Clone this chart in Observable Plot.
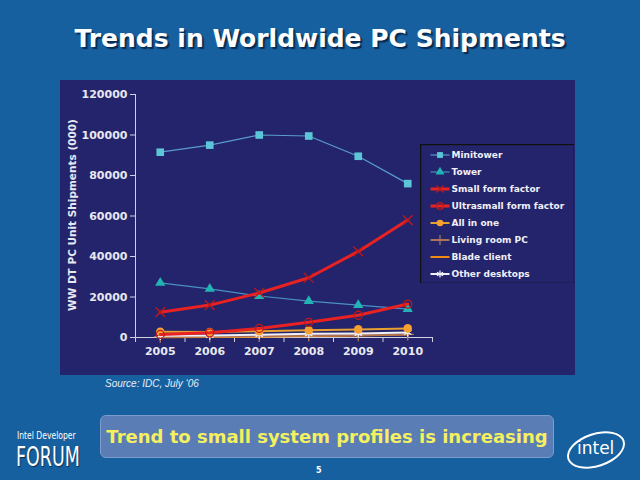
<!DOCTYPE html>
<html>
<head>
<meta charset="utf-8">
<script src="https://cdn.jsdelivr.net/npm/d3@7"></script>
<script src="https://cdn.jsdelivr.net/npm/@observablehq/plot@0.6"></script>
<style>
  html, body { margin:0; padding:0; }
  body { width:640px; height:480px; background:#1660a0; position:relative; overflow:hidden; font-family:"DejaVu Sans", Verdana, sans-serif; }
  #title { position:absolute; left:0; top:24px; width:640px; text-align:center; color:#fff; font-weight:bold; font-size:25px; text-shadow:2px 2px 1px #0a2a50; }
  #chart { position:absolute; left:60px; top:80px; width:515px; height:295px; background:#23246b; }
  #chart svg { position:absolute; left:0; top:0; }
  #ylabel { position:absolute; left:72px; top:215px; transform:translate(-50%,-50%) rotate(-90deg); color:#e8e8f0; font-weight:bold; font-size:10.5px; white-space:nowrap; }
  #legend { position:absolute; left:420px; top:144px; }
  #source { position:absolute; left:105px; top:378px; color:#e8eef8; font-style:italic; font-size:10px; font-family:"Liberation Sans", Arial, sans-serif; }
  #box { position:absolute; left:100px; top:415px; width:454px; height:43px; background:#5a7db5; border:1px solid #7d9bcc; border-radius:6px; box-sizing:border-box; color:#f4f060; font-weight:bold; font-size:18px; text-align:center; line-height:41px; }
  #idf1 { position:absolute; left:17px; top:431px; line-height:1; color:#fff; font-size:10px; font-family:"Liberation Sans Narrow", "DejaVu Sans Condensed", sans-serif; transform-origin:0 0; transform:scaleX(0.85); }
  #idf2 { position:absolute; left:16px; top:443px; line-height:1; color:#fff; font-size:27px; font-family:"Liberation Sans Narrow", "DejaVu Sans Condensed", sans-serif; transform-origin:0 0; transform:scaleX(0.72); text-shadow:1px 1px 1px #0a2a50; }
  #page { position:absolute; left:316px; top:466px; color:#fff; font-size:8px; font-weight:bold; }
  #intel { position:absolute; left:566px; top:433px; width:60px; height:34px; border:2px solid #fff; border-radius:50%; transform:rotate(-18deg); box-sizing:border-box; }
  #inteltxt { position:absolute; left:577px; top:438px; color:#fff; font-size:17px; font-family:"DejaVu Sans", sans-serif; }
</style>
</head>
<body>
<div id="title">Trends in Worldwide PC Shipments</div>
<div id="chart"></div>
<div id="ylabel">WW DT PC Unit Shipments (000)</div>
<div id="legend"></div>
<div id="source">Source: IDC, July ‘06</div>
<div id="box">Trend to small system profiles is increasing</div>
<div id="idf1">Intel Developer</div>
<div id="idf2">FORUM</div>
<div id="page">5</div>
<div id="intel"></div>
<div id="inteltxt">intel</div>
<script>
// ---- data ----
const years = [2005, 2006, 2007, 2008, 2009, 2010];
const seriesNames = ["Minitower", "Tower", "Small form factor", "Ultrasmall form factor", "All in one", "Living room PC", "Blade client", "Other desktops"];
const minitower = [91500, 95000, 100000, 99500, 89500, 76000];
const tower = [27000, 24000, 20500, 18000, 16000, 14000];
const smallFormFactor = [12500, 16000, 22000, 29500, 42500, 58000];
const ultrasmallFormFactor = [1500, 2300, 4500, 7500, 11000, 16500];
const allInOne = [2800, 2700, 3100, 3600, 4000, 4500];
const livingRoomPC = [400, 500, 800, 1000, 1200, 1500];
const bladeClient = [100, 200, 400, 700, 1000, 1500];
const otherDesktops = [900, 1000, 1400, 1800, 2000, 2500];
const yTicks = [0, 20000, 40000, 60000, 80000, 100000, 120000];

const seriesValues = [minitower, tower, smallFormFactor, ultrasmallFormFactor, allInOne, livingRoomPC, bladeClient, otherDesktops];
const styles = {
  "Minitower": {line:"#5a9ccc", width:1.2, symbol:"square", fill:"#5cc6d8", stroke:"none", r:4.3},
  "Tower": {line:"#4a90c0", width:1.2, symbol:"triangle", fill:"#22b4b4", stroke:"none", r:3.8},
  "Small form factor": {line:"#e82222", width:3, symbol:"times", fill:"none", stroke:"#c01818", r:4.5},
  "Ultrasmall form factor": {line:"#e82222", width:3, symbol:"circle", fill:"none", stroke:"#c01818", r:4},
  "All in one": {line:"#e8a030", width:2, symbol:"circle", fill:"#f5a030", stroke:"none", r:4.3},
  "Living room PC": {line:"#a87058", width:2, symbol:"plus", fill:"none", stroke:"#b07858", r:4},
  "Blade client": {line:"#f08a10", width:2, symbol:"circle", fill:"none", stroke:"none", r:0},
  "Other desktops": {line:"#f0f0f8", width:2, symbol:"asterisk", fill:"none", stroke:"#f0f0f8", r:4}
};
const rows = [];
seriesNames.forEach((name, i) => years.forEach((yr, j) => rows.push({series:name, year:yr, value:seriesValues[i][j]})));

const drawOrder = ["Blade client", "Living room PC", "Other desktops", "All in one", "Tower", "Minitower", "Ultrasmall form factor", "Small form factor"];
const seriesMarks = drawOrder.flatMap(name => {
  const s = styles[name];
  const d = rows.filter(r => r.series === name);
  const m = [Plot.line(d, {x:"year", y:"value", stroke:s.line, strokeWidth:s.width})];
  if (s.r > 0) m.push(Plot.dot(d, {x:"year", y:"value", symbol:() => s.symbol, fill:s.fill, stroke:s.stroke, strokeWidth:1.3, r:s.r}));
  return m;
});

const boundaries = years.map(y => y - 0.5).concat([years[years.length-1] + 0.5]);

const chart = Plot.plot({
  width: 515, height: 295,
  marginLeft: 75, marginRight: 143, marginTop: 14, marginBottom: 38,
  style: {background:"transparent", color:"#e8e8f0", fontFamily:"DejaVu Sans, Verdana, sans-serif", fontWeight:"bold", fontSize:"11px"},
  x: {domain:[boundaries[0], boundaries[boundaries.length-1]]},
  y: {domain:[0, 120000]},
  marks: [
    Plot.axisY({ticks:yTicks, tickSize:5, tickPadding:3, tickFormat:d => String(d), label:null, stroke:"#d0d0e0"}),
    Plot.axisX({ticks:boundaries, tickSize:5, tickFormat:() => "", label:null, stroke:"#d0d0e0"}),
    Plot.axisX({ticks:years, tickSize:0, tickPadding:10, tickFormat:d => String(d), label:null}),
    Plot.ruleX([boundaries[0]], {stroke:"#d0d0e0"}),
    Plot.ruleY([0], {stroke:"#d0d0e0"}),
    ...seriesMarks
  ]
});
document.getElementById("chart").appendChild(chart);

// ---- legend ----
const legendRows = seriesNames.map(name => ({name}));
const legend = Plot.plot({
  width: 154, height: 139,
  margin: 0,
  style: {background:"transparent", color:"#f0f0f8", fontFamily:"DejaVu Sans, Verdana, sans-serif", fontWeight:"bold", fontSize:"9px"},
  x: {domain:[0, 154], range:[0, 154], axis:null},
  y: {type:"band", domain:seriesNames, padding:0, axis:null},
  marks: [
    Plot.frame({stroke:"#111", strokeWidth:1.5}),
    Plot.link(legendRows, {x1:() => 10, x2:() => 29, y1:"name", y2:"name", stroke:d => styles[d.name].line, strokeWidth:d => styles[d.name].width}),
    Plot.dot(legendRows.filter(d => styles[d.name].r > 0), {x:() => 19.5, y:"name", symbol:d => styles[d.name].symbol, fill:d => styles[d.name].fill, stroke:d => styles[d.name].stroke, r:3.3, strokeWidth:1.2}),
    Plot.text(legendRows, {x:() => 31, y:"name", text:"name", textAnchor:"start"})
  ]
});
document.getElementById("legend").appendChild(legend);
</script>
</body>
</html>
